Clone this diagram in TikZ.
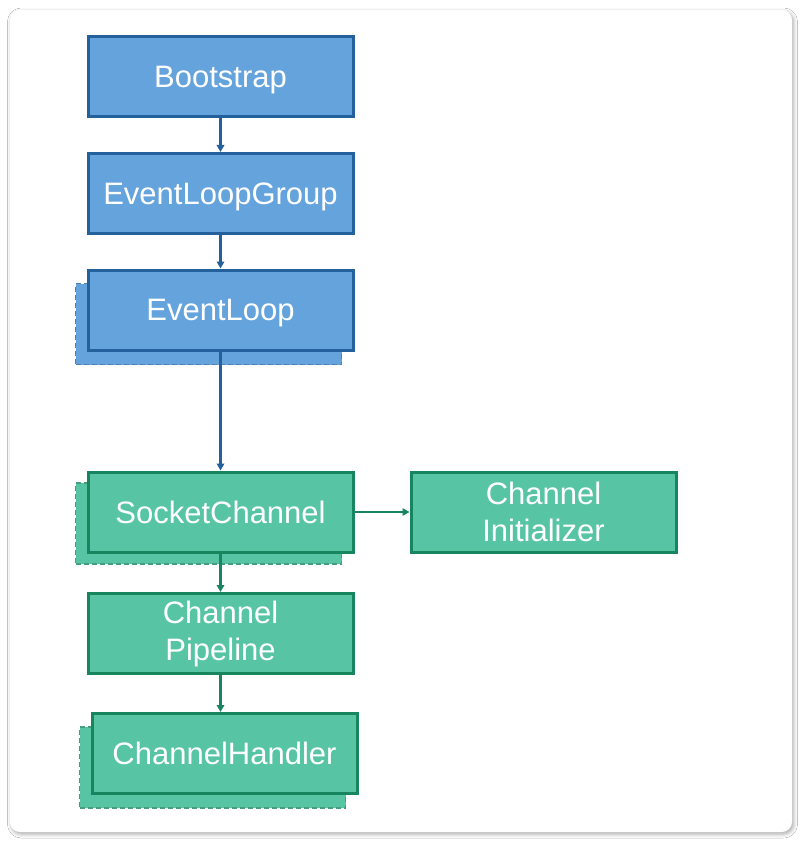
\documentclass[tikz,border=0pt]{standalone}
\usepackage{fontspec}
\setmainfont{Liberation Sans}
\usetikzlibrary{arrows.meta,shadows.blur}
\definecolor{bfill}{HTML}{65A3DC}
\definecolor{bline}{HTML}{23609C}
\definecolor{gfill}{HTML}{57C5A4}
\definecolor{gline}{HTML}{17865E}
\tikzset{
  box/.style={draw, line width=3pt, minimum width=265pt, minimum height=80pt,
    inner sep=0pt, align=center, text=white,
    font=\fontsize{31}{37}\selectfont},
  oneline/.style={text depth=0pt},
  bluebox/.style={box, fill=bfill, draw=bline},
  greenbox/.style={box, fill=gfill, draw=gline},
  shadowbox/.style={draw, dashed, line width=1.8pt, dash pattern=on 5pt off 3pt,
    minimum width=266pt, minimum height=81pt, inner sep=0pt},
  bshadow/.style={shadowbox, fill=bfill, draw=bline!80},
  gshadow/.style={shadowbox, fill=gfill, draw=gline!80},
  barrow/.style={draw=bline, line width=2.4pt, -{Triangle[length=7pt,width=7.5pt]}},
  garrow/.style={draw=gline, line width=2.4pt, -{Triangle[length=7pt,width=7.5pt]}},
}
\begin{document}
\begin{tikzpicture}[x=1pt,y=-1pt]
\useasboundingbox (0,0) rectangle (802,842);
\fill[white] (0,0) rectangle (802,842);
\path[fill=white, rounded corners=10pt,
  blur shadow={shadow xshift=1.5pt, shadow yshift=-2pt, shadow blur radius=4pt, shadow opacity=35}]
  (10,10) rectangle (792,832);
% shadows
\node[bshadow] (elsh) at (208.5,324) {};
\node[gshadow] (scsh) at (208.5,523.5) {};
\node[gshadow] (chsh) at (212.5,767.5) {};
% main boxes
\node[bluebox,oneline] (boot) at (220.5,76.5) {Bootstrap};
\node[bluebox,oneline] (elg) at (220.5,193.5) {EventLoopGroup};
\node[bluebox,oneline] (el) at (220.5,310) {EventLoop};
\node[greenbox,oneline] (sc) at (220.5,512) {SocketChannel};
\node[greenbox] (ci) at (543.5,512) {Channel\\Initializer};
\node[greenbox] (cp) at (220.5,633.5) {Channel\\Pipeline};
\node[greenbox,oneline] (chh) at (224.5,753.5) {ChannelHandler};
% connectors
\draw[barrow] (boot.south) -- (elg.north);
\draw[barrow] (elg.south) -- (el.north);
\draw[barrow] (el.south) -- (sc.north);
\draw[garrow] (sc.east) -- (ci.west);
\draw[garrow] (sc.south) -- (cp.north);
\draw[garrow] (cp.south) -- (chh.north -| cp.south);
\end{tikzpicture}
\end{document}
